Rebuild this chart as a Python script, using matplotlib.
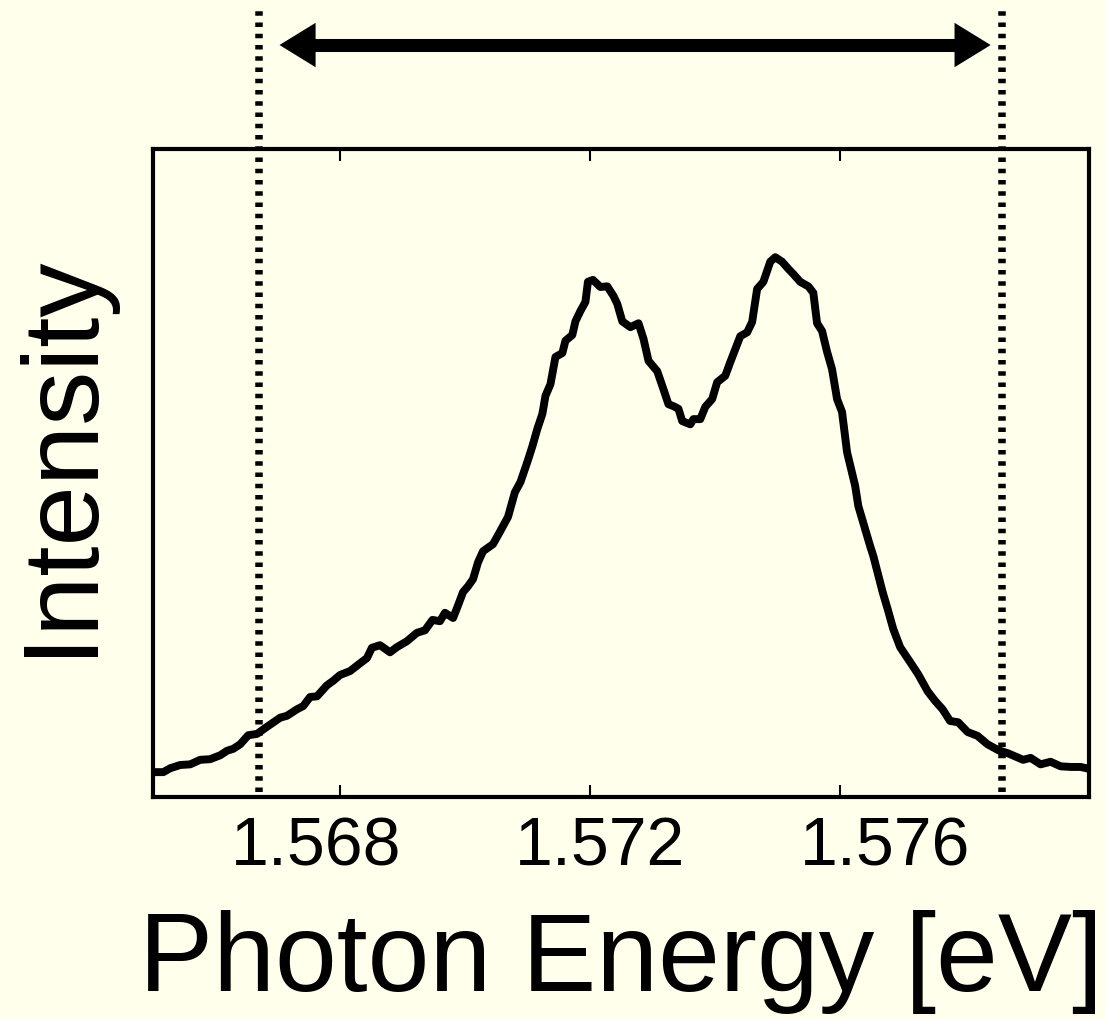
import numpy as np
import matplotlib.pyplot as plt

# === Spectrum (energy in eV, intensity normalised to the frame height) ===
energy = [
    1.56500, 1.56504, 1.56517, 1.56528, 1.56544, 1.56560, 1.56576, 1.56592, 1.56608, 1.56619,
    1.56629, 1.56640, 1.56653, 1.56667, 1.56683, 1.56704, 1.56715, 1.56731, 1.56741, 1.56752,
    1.56763, 1.56779, 1.56789, 1.56800, 1.56816, 1.56832, 1.56843, 1.56851, 1.56864, 1.56880,
    1.56891, 1.56907, 1.56923, 1.56936, 1.56948, 1.56960, 1.56968, 1.56981, 1.56988, 1.56997,
    1.57005, 1.57013, 1.57021, 1.57029, 1.57045, 1.57056, 1.57069, 1.57080, 1.57089, 1.57100,
    1.57108, 1.57116, 1.57124, 1.57129, 1.57137, 1.57145, 1.57156, 1.57161, 1.57172, 1.57177,
    1.57185, 1.57193, 1.57197, 1.57205, 1.57217, 1.57228, 1.57238, 1.57244, 1.57252, 1.57265,
    1.57278, 1.57286, 1.57294, 1.57308, 1.57318, 1.57326, 1.57334, 1.57342, 1.57348, 1.57361,
    1.57366, 1.57377, 1.57385, 1.57396, 1.57404, 1.57417, 1.57425, 1.57441, 1.57452, 1.57460,
    1.57468, 1.57478, 1.57489, 1.57497, 1.57508, 1.57518, 1.57526, 1.57537, 1.57550, 1.57558,
    1.57564, 1.57572, 1.57580, 1.57588, 1.57596, 1.57604, 1.57612, 1.57625, 1.57630, 1.57641,
    1.57649, 1.57654, 1.57669, 1.57677, 1.57686, 1.57697, 1.57713, 1.57726, 1.57741, 1.57753,
    1.57765, 1.57777, 1.57790, 1.57805, 1.57821, 1.57837, 1.57854, 1.57870, 1.57894, 1.57906,
    1.57922, 1.57938, 1.57954, 1.57970, 1.57986, 1.58000,
]
intensity = [
    0.037, 0.038, 0.038, 0.044, 0.049, 0.050, 0.057, 0.058, 0.064, 0.071,
    0.074, 0.081, 0.095, 0.097, 0.108, 0.122, 0.125, 0.135, 0.140, 0.154,
    0.155, 0.172, 0.179, 0.188, 0.194, 0.206, 0.214, 0.230, 0.234, 0.223,
    0.231, 0.240, 0.253, 0.257, 0.273, 0.271, 0.284, 0.276, 0.293, 0.316,
    0.325, 0.336, 0.362, 0.379, 0.390, 0.409, 0.432, 0.470, 0.486, 0.517,
    0.541, 0.568, 0.591, 0.619, 0.637, 0.679, 0.685, 0.704, 0.713, 0.734,
    0.750, 0.764, 0.795, 0.798, 0.787, 0.788, 0.773, 0.761, 0.734, 0.725,
    0.731, 0.707, 0.673, 0.657, 0.629, 0.606, 0.603, 0.599, 0.580, 0.575,
    0.583, 0.583, 0.602, 0.614, 0.640, 0.650, 0.671, 0.711, 0.717, 0.733,
    0.784, 0.795, 0.826, 0.833, 0.826, 0.815, 0.807, 0.795, 0.788, 0.778,
    0.731, 0.719, 0.687, 0.660, 0.614, 0.594, 0.532, 0.480, 0.449, 0.413,
    0.387, 0.372, 0.316, 0.290, 0.259, 0.231, 0.208, 0.189, 0.163, 0.148,
    0.135, 0.117, 0.115, 0.100, 0.094, 0.081, 0.072, 0.067, 0.057, 0.060,
    0.050, 0.054, 0.047, 0.046, 0.046, 0.043,
]

x_ticks = [1.568, 1.572, 1.576]
x_ticklabels = ["1.568", "1.572", "1.576"]
# the labels in the source sit a little apart from their tick marks
x_label_pos = [1.56762, 1.57217, 1.57673]
window = [1.5667, 1.5786]          # dotted markers
arrow_span = [1.56703, 1.57842]    # double-headed arrow tips

bg = "#FFFFEC"
plt.rcParams["font.family"] = ["Liberation Sans", "DejaVu Sans"]

fig = plt.figure(figsize=(11.06, 10.2), dpi=100, facecolor=bg)
ax = fig.add_axes([0.1381, 0.2179, 0.8468, 0.635], facecolor=bg)

ax.plot(energy, intensity, color="black", lw=5.7, solid_joinstyle="round")
ax.set_xlim(1.565, 1.580)
ax.set_ylim(0, 1)

# dotted window lines run past the top of the frame
for e in window:
    ax.plot([e, e], [0.007, 1.216], transform=ax.get_xaxis_transform(), clip_on=False,
            color="black", lw=5.4, linestyle=(0, (0.6, 0.9)), dash_capstyle="butt")

# double-headed arrow: thick shaft plus two filled heads
arrow_y = 1.1606
ax.plot([arrow_span[0] + 0.0003, arrow_span[1] - 0.0003], [arrow_y, arrow_y],
        transform=ax.get_xaxis_transform(), clip_on=False,
        color="black", lw=9.4, solid_capstyle="butt")
style = "simple,head_length=26,head_width=32,tail_width=8.6"
for tip, start in [(arrow_span[0], arrow_span[0] + 0.0009), (arrow_span[1], arrow_span[1] - 0.0009)]:
    ax.annotate("", xy=(tip, arrow_y), xytext=(start, arrow_y),
                xycoords=("data", "axes fraction"), textcoords=("data", "axes fraction"),
                annotation_clip=False,
                arrowprops=dict(arrowstyle=style, mutation_scale=1, fc="black", ec="none",
                                lw=0, shrinkA=0, shrinkB=0))

# === Axes styling ===
for s in ax.spines.values():
    s.set_linewidth(3)
ax.set_xticks(x_ticks)
ax.set_xticklabels([])
ax.set_yticks([])
ax.tick_params(axis="x", direction="in", top=True, bottom=True, length=8.6, width=1.5)
for pos, lab in zip(x_label_pos, x_ticklabels):
    ax.text(pos, -0.027, lab, transform=ax.get_xaxis_transform(),
            ha="center", va="top", fontsize=49)

ax.set_xlabel("Photon Energy [eV]", fontsize=80)
ax.xaxis.set_label_coords(0.5, -0.174)
ax.set_ylabel("Intensity", fontsize=78)
ax.yaxis.set_label_coords(-0.045, 0.531)

fig.savefig("out.png", dpi=100, facecolor=bg)
